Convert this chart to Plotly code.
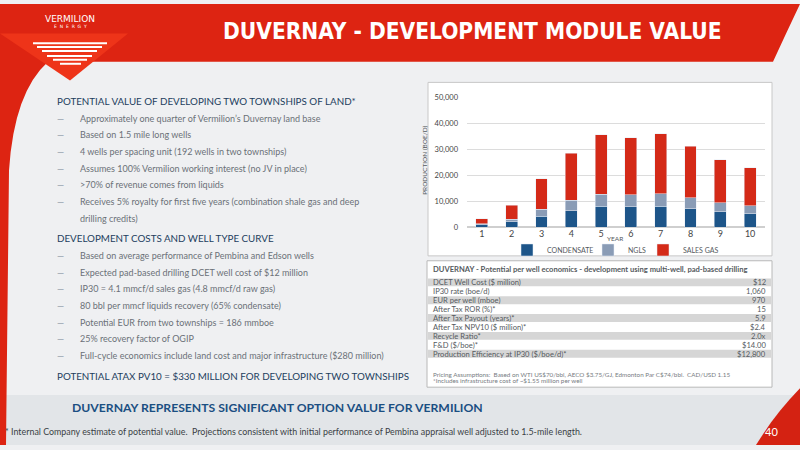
import plotly.graph_objects as go

# production by year (boe/d)
years = [1, 2, 3, 4, 5, 6, 7, 8, 9, 10]
condensate = [1000, 2100, 4200, 6500, 8100, 7900, 8100, 7100, 6100, 5200]
ngls = [500, 1000, 2700, 3900, 4600, 4600, 4900, 4300, 3300, 3200]
sales_gas = [1900, 5500, 11700, 18000, 22900, 22000, 23000, 19700, 16500, 14500]

# per well economics table
econ_labels = ["DCET Well Cost ($ million)", "IP30 rate (boe/d)", "EUR per well (mboe)",
               "After Tax ROR (%)*", "After Tax Payout (years)*", "After Tax NPV10 ($ million)*",
               "Recycle Ratio*", "F&D ($/boe)*", "Production Efficiency at IP30 ($/boe/d)*"]
econ_values = ["$12", "1,060", "970", "15", "5.9", "$2.4", "2.0x", "$14.00", "$12,800"]

section1 = "POTENTIAL VALUE OF DEVELOPING TWO TOWNSHIPS OF LAND*"
bullets1 = ["Approximately one quarter of Vermilion\u2019s Duvernay land base",
            "Based on 1.5 mile long wells",
            "4 wells per spacing unit (192 wells in two townships)",
            "Assumes 100% Vermilion working interest (no JV in place)",
            ">70% of revenue comes from liquids",
            "Receives 5% royalty for first five years (combination shale gas and deep",
            "drilling credits)"]
section2 = "DEVELOPMENT COSTS AND WELL TYPE CURVE"
bullets2 = ["Based on average performance of Pembina and Edson wells",
            "Expected pad-based drilling DCET well cost of $12 million",
            "IP30 = 4.1 mmcf/d sales gas (4.8 mmcf/d raw gas)",
            "80 bbl per mmcf liquids recovery (65% condensate)",
            "Potential EUR from two townships = 186 mmboe",
            "25% recovery factor of OGIP",
            "Full-cycle economics include land cost and major infrastructure ($280 million)"]
section3 = "POTENTIAL ATAX PV10 = $330 MILLION FOR DEVELOPING TWO TOWNSHIPS"

W, H = 800, 450
def X(p): return p / W
def Y(p): return 1 - p / H

BODY = "Lato, 'Open Sans', sans-serif"
NAVY = "#1d3e5e"
GREY = "#6b7178"
RED = "#dd2412"

fig = go.Figure()
fig.add_trace(go.Bar(x=years, y=condensate, name="CONDENSATE", marker_color="#1d5589", width=0.4,
                     legend="legend", showlegend=True))
fig.add_trace(go.Bar(x=years, y=ngls, name="NGLS", marker_color="#8a9cb6", width=0.4,
                     legend="legend2", showlegend=True))
fig.add_trace(go.Bar(x=years, y=sales_gas, name="SALES GAS", marker_color="#d42a18", width=0.4,
                     legend="legend3", showlegend=True))

shapes = []
# slide background and bottom band
shapes.append(dict(type="rect", xref="paper", yref="paper", x0=0, x1=1, y0=0, y1=1,
                   fillcolor="#eff0f2", line_width=0, layer="below"))
shapes.append(dict(type="rect", xref="paper", yref="paper", x0=0, x1=1, y0=Y(450), y1=Y(399),
                   fillcolor="#e2e5e8", line_width=0, layer="below"))
# red header with left strip
hdr = (f"M0,{Y(0)} L1,{Y(0)} Q{X(786)},{Y(30)} {X(773)},{Y(59)} L{X(48)},{Y(59)} "
       f"Q{X(14)},{Y(90)} {X(9)},{Y(170)} L{X(6)},{Y(450)} L0,{Y(450)} Z")
shapes.append(dict(type="path", xref="paper", yref="paper", path=hdr, fillcolor=RED,
                   line_width=0, layer="below"))
# logo triangle
tri = f"M{X(0)},{Y(30)} L{X(128)},{Y(30)} L{X(70)},{Y(78)} Z"
shapes.append(dict(type="path", xref="paper", yref="paper", path=tri, fillcolor="#ee3419",
                   line_width=0, layer="below"))
# logo stripes
for yy, x0, x1 in [(40, 33, 107), (44, 37, 102), (48, 42, 97), (53, 47, 92), (57, 53, 87), (61, 60, 81)]:
    shapes.append(dict(type="line", xref="paper", yref="paper", x0=X(x0), x1=X(x1), y0=Y(yy), y1=Y(yy),
                       line=dict(color="white", width=2), layer="below"))
# bottom right red corner
corner_pts = [(800, 392), (790, 403), (780, 415), (771, 427), (763, 439), (756, 450), (800, 450)]
corner = "M" + " L".join(f"{X(a):.4f},{Y(b):.4f}" for a, b in corner_pts) + " Z"
shapes.append(dict(type="path", xref="paper", yref="paper", path=corner, fillcolor="#d42212",
                   line_width=0, layer="below"))
# chart panel and table box
shapes.append(dict(type="rect", xref="paper", yref="paper", x0=X(428), x1=X(772), y0=Y(257), y1=Y(80),
                   fillcolor="white", line=dict(color="#c8c8c8", width=1), layer="below"))
shapes.append(dict(type="rect", xref="paper", yref="paper", x0=X(427), x1=X(772), y0=Y(391), y1=Y(262),
                   fillcolor="white", line=dict(color="#b8b8b8", width=1), layer="below"))

ann = []
def txt(x, y, s, size, color, family=BODY, anchor="left", **kw):
    ann.append(dict(x=X(x), y=Y(y), xref="paper", yref="paper", text=s, showarrow=False,
                    xanchor=anchor, yanchor="middle", font=dict(size=size, color=color, family=family), **kw))

# table rows
row_top, row_h = 279.5, 9.1
for i, (lab, val) in enumerate(zip(econ_labels, econ_values)):
    y0 = row_top + i * row_h
    if i % 2 == 0:
        shapes.append(dict(type="rect", xref="paper", yref="paper", x0=X(428), x1=X(771),
                           y0=Y(y0 + row_h - 0.5), y1=Y(y0 + 0.5), fillcolor="#d6d6d6",
                           line_width=0, layer="below"))
    txt(431, y0 + row_h / 2, lab, 7.6, "#555a60")
    txt(768, y0 + row_h / 2, val, 7.6, "#555a60", anchor="right")

txt(70, 15, "VERMILION", 9, "white", "'DejaVu Sans', sans-serif", "center")
txt(70, 23, "E  N  E  R  G  Y", 4.5, "white", "'DejaVu Sans', sans-serif", "center")
txt(472, 28, "<b>DUVERNAY - DEVELOPMENT MODULE VALUE</b>", 22.5, "white",
    "'Liberation Sans Narrow', 'DejaVu Sans Condensed', sans-serif", "center")

txt(55, 99, section1, 9.8, NAVY)
for i, b in enumerate(bullets1):
    yy = 116.5 + i * 17
    if i < 6:
        txt(55, yy, "\u2014", 9, "#8e9aa8")
    txt(78, yy, b, 9, GREY)
txt(55, 238.5, section2, 9.8, NAVY)
for i, b in enumerate(bullets2):
    yy = 256.5 + i * 17
    txt(55, yy, "\u2014", 9, "#8e9aa8")
    txt(78, yy, b, 9, GREY)
txt(55, 379.5, section3, 9.8, NAVY)

# chart labels
txt(425, 160, "PRODUCTION (BOE/D)", 6.5, "#555a60", anchor="center", textangle=-90)
txt(615, 239, "YEAR", 6.5, "#555a60", anchor="center")

# table title and footnotes
txt(431, 270, "<b>DUVERNAY - Potential per well economics - development using multi-well, pad-based drilling</b>",
    7.6, "#555a60")
txt(431, 378, "Pricing Assumptions:  Based on WTI US$70/bbl, AECO $3.75/GJ, Edmonton Par C$74/bbl.  CAD/USD 1.15",
    6.3, "#777c82")
txt(431, 384.5, "*Includes infrastructure cost of ~$1.55 million per well", 6.3, "#777c82")

# bottom band
txt(70, 412, "<b>DUVERNAY REPRESENTS SIGNIFICANT OPTION VALUE FOR VERMILION</b>", 12.2, "#1b4f82")
txt(3, 436, "* Internal Company estimate of potential value.  Projections consistent with initial performance "
    "of Pembina appraisal well adjusted to 1.5-mile length.", 8.9, "#3a3f45")
txt(771, 436, "40", 11, "white", anchor="center")

leg = dict(orientation="h", y=Y(251), xanchor="left", yanchor="middle", visible=True,
           font=dict(size=7, color="#555a60"), bgcolor="rgba(0,0,0,0)", itemwidth=30)

fig.update_layout(
    width=W, height=H,
    margin=dict(l=0, r=0, t=0, b=0),
    paper_bgcolor="#eff0f2",
    plot_bgcolor="rgba(0,0,0,0)",
    barmode="stack",
    showlegend=True,
    shapes=shapes,
    annotations=ann,
    font=dict(family=BODY, color="#555a60"),
    xaxis=dict(domain=[X(467), X(765)], range=[0.5, 10.5], tickvals=years, showgrid=False,
               zeroline=False, showline=False, ticks="", tickfont=dict(size=9, color="#444"),
               anchor="y"),
    yaxis=dict(domain=[Y(228), Y(95)], range=[0, 50000], tickvals=[0, 10000, 20000, 30000, 40000, 50000],
               tickformat=",", showgrid=True, gridcolor="#dcdcdc", gridwidth=1, zeroline=True,
               zerolinecolor="#cfcfcf", ticks="", tickfont=dict(size=7.5, color="#444"), ticklabelstandoff=8),
    legend=dict(leg, x=X(507)),
    legend2=dict(leg, x=X(588)),
    legend3=dict(leg, x=X(643)),
)

# page body margin would push the slide off by a few pixels
fig.write_html("out.html", config={"displayModeBar": False},
               post_script="document.body.style.margin='0';")
